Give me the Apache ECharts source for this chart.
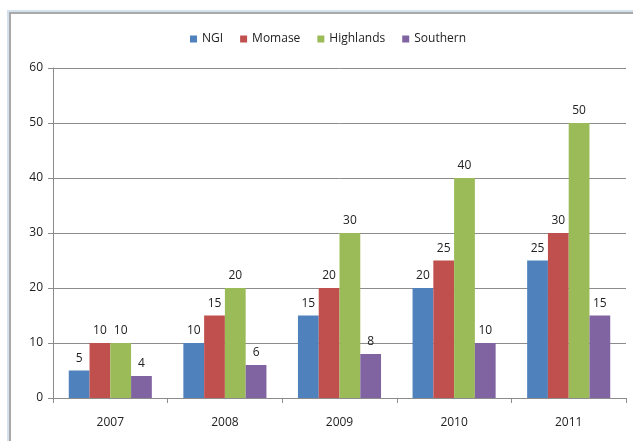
<!DOCTYPE html>
<html>
<head>
<meta charset="utf-8">
<script src="https://cdn.jsdelivr.net/npm/echarts@6/dist/echarts.min.js"></script>
<style>
  html, body { margin: 0; padding: 0; background: #fff; }
  #frameOuter { position: absolute; left: 7px; top: 10px; width: 700px; height: 500px;
    border-left: 2px solid #d3e0ee; border-top: 2px solid #d3e0ee; }
  #frameInner { position: absolute; left: 9px; top: 12px; width: 700px; height: 500px;
    border-left: 2px solid #a9a9a9; border-top: 2px solid #a9a9a9; }
  #main { position: absolute; left: 0; top: 0; width: 633px; height: 441px; }
</style>
</head>
<body>
<div id="frameOuter"></div>
<div id="frameInner"></div>
<div id="main"></div>
<script>
  // data
  var years = ['2007', '2008', '2009', '2010', '2011'];
  var ngi = [5, 10, 15, 20, 25];
  var momase = [10, 15, 20, 25, 30];
  var highlands = [10, 20, 30, 40, 50];
  var southern = [4, 6, 8, 10, 15];

  var fontFam = 'Open Sans';
  var chart = echarts.init(document.getElementById('main'));

  function bar(name, data, color) {
    return {
      name: name,
      type: 'bar',
      data: data,
      barGap: '0%',
      barCategoryGap: '27.5%',
      itemStyle: { color: color },
      label: {
        show: true,
        position: 'top',
        distance: 6,
        color: '#222',
        fontFamily: fontFam,
        fontSize: 12
      }
    };
  }

  var option = {
    animation: false,
    backgroundColor: 'transparent',
    legend: {
      top: 28,
      left: 185,
      icon: 'rect',
      itemWidth: 7,
      itemHeight: 7,
      itemGap: 17,
      textStyle: { fontFamily: fontFam, fontSize: 12, color: '#222' },
      data: ['NGI', 'Momase', 'Highlands', 'Southern']
    },
    grid: { left: 53, right: 7, top: 68, bottom: 43 },
    xAxis: {
      type: 'category',
      data: years,
      axisLine: { lineStyle: { color: '#8c8c8c' } },
      axisTick: { show: true, length: 5, alignWithLabel: false, lineStyle: { color: '#8c8c8c' } },
      axisLabel: { margin: 19, color: '#222', fontFamily: fontFam, fontSize: 12 }
    },
    yAxis: {
      type: 'value',
      min: 0,
      max: 60,
      interval: 10,
      axisLine: { show: true, lineStyle: { color: '#8c8c8c' } },
      axisTick: { show: true, length: 5, inside: false, lineStyle: { color: '#8c8c8c' } },
      splitLine: { lineStyle: { color: '#8c8c8c' } },
      axisLabel: { margin: 10, color: '#222', fontFamily: fontFam, fontSize: 12 }
    },
    series: [
      bar('NGI', ngi, '#4f81bd'),
      bar('Momase', momase, '#c0504d'),
      bar('Highlands', highlands, '#9bbb59'),
      bar('Southern', southern, '#8064a2')
    ]
  };

  chart.setOption(option);
</script>
</body>
</html>
